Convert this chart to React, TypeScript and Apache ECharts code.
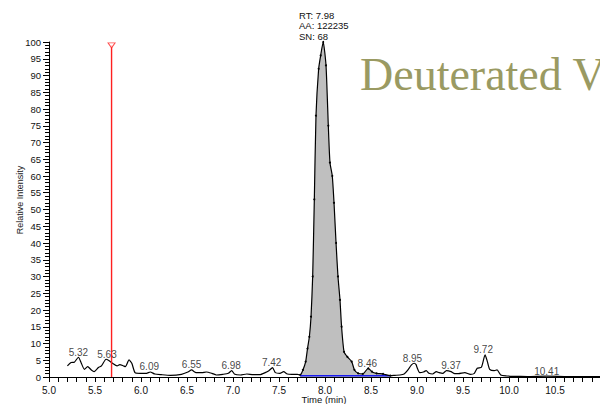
import React, { useEffect, useRef } from 'react';
import * as echarts from 'echarts';

// Chromatogram (time in min, relative intensity %)
const times = [
  5.2, 5.24, 5.275, 5.32, 5.35, 5.385, 5.42, 5.46, 5.49, 5.54, 5.57, 5.62, 5.65, 5.69, 5.74, 5.77, 5.81, 5.83, 5.87, 5.9,
  5.935, 5.99, 6.06, 6.1, 6.15, 6.22, 6.32, 6.44, 6.51, 6.55, 6.59, 6.66, 6.71, 6.77, 6.82, 6.89, 6.95, 6.985, 7.02, 7.08,
  7.15, 7.22, 7.29, 7.35, 7.39, 7.43, 7.46, 7.51, 7.55, 7.59, 7.64, 7.7,
  7.73, 7.76, 7.79, 7.81, 7.83, 7.848, 7.866, 7.884, 7.902, 7.931, 7.953, 7.98, 8.011, 8.036, 8.054, 8.079, 8.098, 8.12,
  8.141, 8.163, 8.18, 8.207, 8.243, 8.29, 8.32, 8.36, 8.41, 8.47, 8.51, 8.56, 8.63, 8.71,
  8.76, 8.815, 8.86, 8.895, 8.94, 8.97, 8.99, 9.0, 9.03, 9.07, 9.1, 9.13, 9.17, 9.21, 9.24, 9.28, 9.32, 9.37, 9.41, 9.45,
  9.52, 9.58, 9.62, 9.655, 9.7, 9.74, 9.765, 9.79, 9.84, 9.87, 9.91, 9.975, 10.05, 10.2, 10.41, 10.6, 10.8, 11.0,
];
const intensity = [
  3.3, 4.3, 4.4, 5.9, 4.2, 2.3, 3.1, 2.1, 1.6, 2.9, 3.3, 5.3, 4.9, 4.1, 3.3, 3.7, 3.3, 3.1, 5.1, 4.1,
  1.3, 1.1, 1.1, 1.5, 0.9, 0.7, 0.5, 0.8, 1.5, 2.1, 1.4, 1.3, 1.5, 1.1, 0.6, 0.8, 1.1, 1.9, 0.8, 0.6,
  0.9, 0.7, 0.7, 1.3, 1.9, 2.8, 1.3, 1.1, 1.6, 0.9, 0.8, 0.8,
  0.6, 2.1, 4.6, 8.5, 12, 18, 30, 53, 78, 92, 96, 100, 93, 75, 64, 60, 52, 40,
  30, 23, 15, 7.5, 6, 4.6, 2.1, 1.1, 0.9, 2.6, 1.6, 1.1, 0.9, 0.4,
  0.5, 0.6, 0.9, 1.9, 3.6, 4.1, 3.7, 2.9, 1.3, 1.5, 1.9, 1.1, 0.9, 1.6, 1.3, 1.1, 1.9, 1.6, 1.0, 1.0,
  1.3, 0.8, 1.0, 2.6, 2.9, 6.6, 4.6, 2.3, 1.9, 2.1, 0.6, 0.3, 0.2, 0.15, 0.25, 0.15, 0.1, 0.1,
];

// Labelled peaks
const peakTimes = [5.32, 5.63, 6.09, 6.55, 6.98, 7.42, 8.46, 8.95, 9.37, 9.72, 10.41];
const peakHeights = [5.9, 5.3, 1.5, 2.1, 1.9, 2.8, 2.6, 4.1, 1.9, 6.6, 0.25];

// Integrated peak
const integrationStart = 7.73;
const integrationEnd = 8.71;
const integrationBaseline = 0.35;
const peakInfo = ['RT: 7.98', 'AA: 122235', 'SN: 68'];

// Marker line
const markerTime = 5.68;
const markerTop = 99;

const titleText = 'Deuterated V';
const xAxisTitle = 'Time (min)';
const yAxisTitle = 'Relative Intensity';

export default function App() {
  const ref = useRef<HTMLDivElement>(null);

  useEffect(() => {
    if (!ref.current) return;
    const chart = echarts.init(ref.current, undefined, { renderer: 'svg' });
    const curve = times.map((t, i) => [t, intensity[i]]);
    const segment = curve.filter((p) => p[0] >= integrationStart && p[0] <= integrationEnd);
    const sans = '"Liberation Sans", Arial, sans-serif';

    chart.setOption({
      animation: false,
      grid: { left: 49, right: -1, top: 42, bottom: 27, containLabel: false, outerBoundsMode: 'none' },
      xAxis: {
        type: 'value',
        min: 5,
        max: 11,
        interval: 0.5,
        axisLine: { show: true, onZero: false, lineStyle: { color: '#000', width: 1 } },
        axisTick: { show: true, length: 5, lineStyle: { color: '#000' } },
        minorTick: { show: true, splitNumber: 5, length: 5, lineStyle: { color: '#000' } },
        splitLine: { show: false },
        minorSplitLine: { show: false },
        axisLabel: {
          fontFamily: sans,
          fontSize: 10,
          lineHeight: 10,
          color: '#111',
          margin: 8,
          showMaxLabel: false,
          formatter: (v: number) => (v > 10.9 ? '' : v.toFixed(1)),
        },
      },
      yAxis: {
        type: 'value',
        min: 0,
        max: 100,
        interval: 5,
        axisLine: { show: true, lineStyle: { color: '#000', width: 1 } },
        axisTick: { show: true, length: 6, lineStyle: { color: '#000' } },
        minorTick: { show: true, splitNumber: 5, length: 4, lineStyle: { color: '#000' } },
        splitLine: { show: false },
        minorSplitLine: { show: false },
        axisLabel: { fontFamily: sans, fontSize: 9.5, color: '#111', margin: 8 },
      },
      graphic: [
        {
          type: 'text',
          x: 360,
          y: 74.5,
          style: {
            text: titleText,
            font: '46px "Liberation Serif", "Times New Roman", serif',
            fill: '#9a9a62',
            textAlign: 'left',
            textVerticalAlign: 'middle',
            align: 'left',
            verticalAlign: 'middle',
          },
        },
        {
          type: 'text',
          x: 20,
          y: 200,
          rotation: Math.PI / 2,
          style: {
            text: yAxisTitle,
            font: '9px "Liberation Sans", Arial, sans-serif',
            fill: '#222',
            textAlign: 'center',
            textVerticalAlign: 'middle',
            align: 'center',
            verticalAlign: 'middle',
          },
        },
        {
          type: 'text',
          x: 324,
          y: 399.5,
          style: {
            text: xAxisTitle,
            font: '9.5px "Liberation Sans", Arial, sans-serif',
            lineHeight: 9.5,
            fill: '#111',
            textAlign: 'center',
            textVerticalAlign: 'middle',
            align: 'center',
            verticalAlign: 'middle',
          },
        },
        {
          type: 'text',
          x: 299,
          y: 10,
          style: {
            text: peakInfo.join('\n'),
            font: '9.5px "Liberation Sans", Arial, sans-serif',
            lineHeight: 10.5,
            fill: '#111',
            textAlign: 'left',
            textVerticalAlign: 'top',
            align: 'left',
            verticalAlign: 'top',
          },
        },
      ],
      series: [
        {
          type: 'line',
          data: segment,
          smooth: 0.2,
          symbol: 'circle',
          symbolSize: 2,
          showSymbol: true,
          itemStyle: { color: '#000' },
          lineStyle: { width: 0 },
          areaStyle: { color: '#bfbfbf', opacity: 1 },
          z: 1,
          silent: true,
        },
        {
          type: 'line',
          data: [
            [integrationStart, integrationBaseline],
            [integrationEnd, integrationBaseline],
          ],
          symbol: 'none',
          lineStyle: { color: '#1a1aee', width: 1.5 },
          z: 2,
          silent: true,
        },
        {
          type: 'line',
          data: curve,
          smooth: 0.2,
          symbol: 'none',
          lineStyle: { color: '#000', width: 1.2 },
          z: 3,
          silent: true,
        },
        {
          type: 'line',
          data: [
            [markerTime, 0],
            [markerTime, markerTop],
          ],
          symbol: 'none',
          lineStyle: { color: '#ff2020', width: 1.4 },
          z: 4,
          silent: true,
        },
        {
          type: 'scatter',
          data: [[markerTime, markerTop]],
          symbol: 'triangle',
          symbolRotate: 180,
          symbolSize: [7, 5],
          itemStyle: { color: '#fff', borderColor: '#ff2020', borderWidth: 1 },
          z: 5,
          silent: true,
        },
        {
          type: 'scatter',
          data: peakTimes.map((t, i) => [t, peakHeights[i]]),
          symbolSize: 1,
          itemStyle: { color: 'rgba(0,0,0,0)' },
          label: {
            show: true,
            position: 'inside',
            offset: [0, -5],
            fontFamily: sans,
            fontSize: 10,
            color: '#111',
            formatter: (p: any) => p.value[0].toFixed(2),
          },
          z: 6,
          silent: true,
        },
      ],
    });

    return () => chart.dispose();
  }, []);

  return (
    <div
      ref={ref}
      style={{ position: 'fixed', left: 0, top: 0, width: 600, height: 404, background: '#fff' }}
    />
  );
}
